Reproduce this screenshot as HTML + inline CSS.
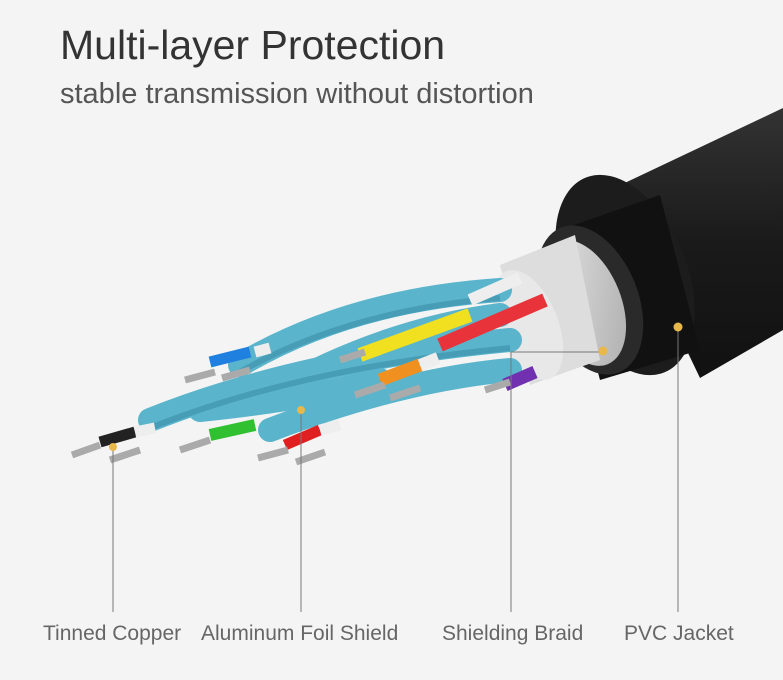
<!DOCTYPE html>
<html><head><style>
html,body{margin:0;padding:0;background:#f4f4f4;}
body{width:783px;height:680px;position:relative;overflow:hidden;font-family:"Liberation Sans",sans-serif;}
.t{position:absolute;left:60px;top:22px;font-size:41px;color:#333;}
.s{position:absolute;left:60px;top:78px;font-size:29px;color:#555;}
.l{position:absolute;top:622px;font-size:21px;color:#666;white-space:nowrap;}
</style></head><body>
<svg width="783" height="680" style="position:absolute;left:0;top:0">
<defs>
<linearGradient id="br" x1="0" y1="0" x2="0" y2="1"><stop offset="0" stop-color="#333"/><stop offset="0.5" stop-color="#1a1a1a"/><stop offset="1" stop-color="#111"/></linearGradient>
<linearGradient id="sv" x1="0" y1="0" x2="1" y2="1"><stop offset="0" stop-color="#eee"/><stop offset="1" stop-color="#aaa"/></linearGradient>
</defs>
<polygon points="610,190 783,108 783,330 700,378" fill="url(#br)"/>
<ellipse cx="625" cy="275" rx="62" ry="105" transform="rotate(-22 625 275)" fill="#1c1c1c"/>
<polygon points="560,230 660,195 700,350 600,380" fill="#111"/>
<ellipse cx="590" cy="300" rx="48" ry="78" transform="rotate(-22 590 300)" fill="#2a2a2a"/>
<ellipse cx="583" cy="303" rx="38" ry="66" transform="rotate(-22 583 303)" fill="url(#sv)"/>
<polygon points="500,265 575,235 600,360 530,385" fill="#ddd"/>
<ellipse cx="528" cy="325" rx="30" ry="58" transform="rotate(-22 528 325)" fill="#e8e8e8"/>
<g stroke="#5ab5cc" stroke-width="24" stroke-linecap="round" fill="none">
<path d="M240,365 Q350,300 500,290"/>
<path d="M150,420 Q300,360 510,340"/>
<path d="M270,430 Q400,380 510,370"/>
<path d="M200,410 Q300,400 380,380"/>
<path d="M260,400 Q380,330 500,315"/>
</g>
<g stroke="#3d8ea8" stroke-width="6" fill="none" opacity="0.6">
<path d="M240,372 Q350,310 500,298"/>
<path d="M150,428 Q300,368 510,348"/>
</g>
<g stroke-linecap="butt" fill="none">
<line x1="440" y1="345" x2="545" y2="300" stroke="#e8333a" stroke-width="14"/>
<line x1="360" y1="355" x2="470" y2="315" stroke="#f0e020" stroke-width="14"/>
<line x1="470" y1="300" x2="520" y2="278" stroke="#eee" stroke-width="12"/>
<line x1="380" y1="380" x2="420" y2="365" stroke="#f09020" stroke-width="13"/>
<line x1="505" y1="385" x2="535" y2="372" stroke="#7030b0" stroke-width="13"/>
<line x1="210" y1="362" x2="250" y2="352" stroke="#2080e0" stroke-width="11"/>
<line x1="210" y1="435" x2="255" y2="425" stroke="#30c030" stroke-width="12"/>
<line x1="285" y1="445" x2="320" y2="430" stroke="#e02020" stroke-width="11"/>
<line x1="100" y1="442" x2="135" y2="432" stroke="#222" stroke-width="11"/>
<line x1="255" y1="352" x2="270" y2="348" stroke="#eee" stroke-width="11"/>
<line x1="135" y1="432" x2="155" y2="428" stroke="#eee" stroke-width="11"/>
<line x1="320" y1="430" x2="340" y2="425" stroke="#eee" stroke-width="11"/>
<line x1="420" y1="365" x2="438" y2="358" stroke="#eee" stroke-width="12"/>
</g>
<g stroke="#aaa" stroke-width="7">
<line x1="185" y1="380" x2="215" y2="372"/>
<line x1="222" y1="378" x2="250" y2="370"/>
<line x1="72" y1="455" x2="100" y2="445"/>
<line x1="110" y1="460" x2="140" y2="450"/>
<line x1="180" y1="450" x2="210" y2="440"/>
<line x1="258" y1="458" x2="288" y2="450"/>
<line x1="296" y1="462" x2="325" y2="452"/>
<line x1="340" y1="360" x2="365" y2="352"/>
<line x1="355" y1="395" x2="385" y2="385"/>
<line x1="390" y1="398" x2="420" y2="388"/>
<line x1="485" y1="390" x2="510" y2="382"/>
</g>
<g stroke="#777" stroke-width="1" fill="none">
<line x1="113" y1="447" x2="113" y2="612"/>
<line x1="301" y1="410" x2="301" y2="612"/>
<polyline points="511,612 511,352 603,352"/>
<line x1="678" y1="327" x2="678" y2="612"/>
</g>
<g fill="#e8b84a">
<circle cx="113" cy="447" r="4"/><circle cx="301" cy="410" r="4"/>
<circle cx="603" cy="351" r="4.5"/><circle cx="678" cy="327" r="4.5"/>
</g>
</svg>
<div class="t">Multi-layer Protection</div>
<div class="s">stable transmission without distortion</div>
<div class="l" style="left:43px">Tinned Copper</div>
<div class="l" style="left:201px">Aluminum Foil Shield</div>
<div class="l" style="left:442px">Shielding Braid</div>
<div class="l" style="left:624px">PVC Jacket</div>
</body></html>
